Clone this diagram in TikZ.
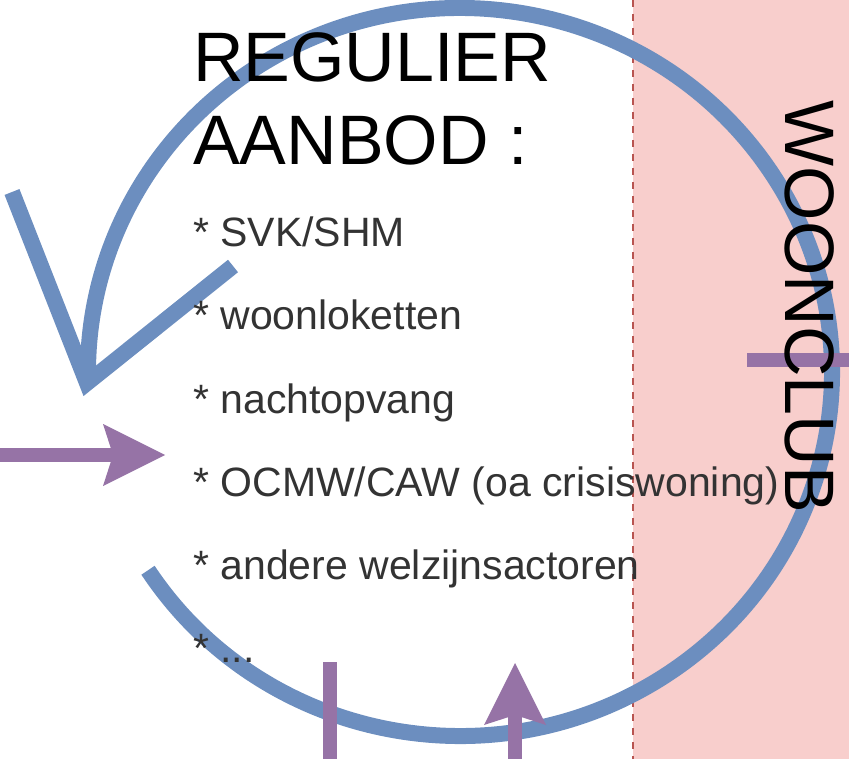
\documentclass[tikz,border=0pt]{standalone}
\usepackage{fontspec}
\setmainfont{Liberation Sans}
\usetikzlibrary{arrows.meta,positioning}
\definecolor{cyclecolor}{HTML}{6C8EBF}
\definecolor{flowcolor}{HTML}{9673A6}
\definecolor{clubfill}{HTML}{F8CECC}
\definecolor{clubline}{HTML}{B85450}
\definecolor{itemtext}{HTML}{333333}

\begin{document}
\begin{tikzpicture}
        [
            x                 = 1pt,
            y                 = -1pt,
            cycleline/.style  = {draw=cyclecolor, line width=16pt},
            flowline/.style   = {draw=flowcolor, line width=14pt},
            flowarrow/.style  = {flowline, -{Stealth[length=62pt, width=62pt, inset=10pt, line width=0pt]}},
            heading/.style    = {anchor=base west, inner sep=0pt, font=\fontsize{70}{83}\selectfont},
            entry/.style      = {anchor=base west, inner sep=0pt, text=itemtext, font=\fontsize{41}{49}\selectfont},
        ]
        \useasboundingbox (0,0) rectangle (849,759);
        % woonclub strip
        \fill [clubfill] (633,0) rectangle (849,759);
        \draw [clubline, line width=2pt, dash pattern=on 7pt off 7pt] (633,0) -- (633,759);
        % the cycle
        \coordinate (ctr)   at (460,372);
        \coordinate (tip)   at (87,383);
        \coordinate (barbL) at (12,192);
        \coordinate (barbR) at (233,266);
        \draw [cycleline] ([shift={(147:372 and 364)}]ctr)
            arc [start angle=147, end angle=-181, x radius=372, y radius=364] -- (tip);
        \draw [cycleline, line join=miter] (barbL) -- (tip) -- (barbR);
        % in and out
        \coordinate (inW)     at (0,455);
        \coordinate (inWend)  at (165,455);
        \coordinate (outS)    at (330,759);
        \coordinate (outSend) at (330,662);
        \coordinate (inS)     at (515,759);
        \coordinate (inSend)  at (515,663);
        \coordinate (outE)    at (849,360);
        \coordinate (outEend) at (747,360);
        \draw [flowarrow] (inW) -- (inWend);
        \draw [flowline]  (outS) -- (outSend);
        \draw [flowarrow] (inS) -- (inSend);
        \draw [flowline]  (outE) -- (outEend);
        % texts
        \node [heading] (regulier) at (193,82) {REGULIER};
        \node [heading] (aanbod) at ([yshift=-83pt]regulier.base west) {AANBOD :};
        \node [entry] (svk)     at ([yshift=-82pt]aanbod.base west) {* SVK/SHM};
        \node [entry] (loket)   at ([yshift=-83pt]svk.base west) {* woonloketten};
        \node [entry] (nacht)   at ([yshift=-83pt]loket.base west) {* nachtopvang};
        \node [entry] (ocmw)    at ([yshift=-83pt]nacht.base west) {* OCMW/CAW (oa crisiswoning)};
        \node [entry] (welzijn) at ([yshift=-83pt]ocmw.base west) {* andere welzijnsactoren};
        \node [entry] (rest)    at ([yshift=-83pt]welzijn.base west) {* ...};
        \node [rotate=-90, inner sep=0pt, font=\fontsize{70}{83}\selectfont] (woonclub) at (810,307) {WOONCLUB};
    \end{tikzpicture}
\end{document}
